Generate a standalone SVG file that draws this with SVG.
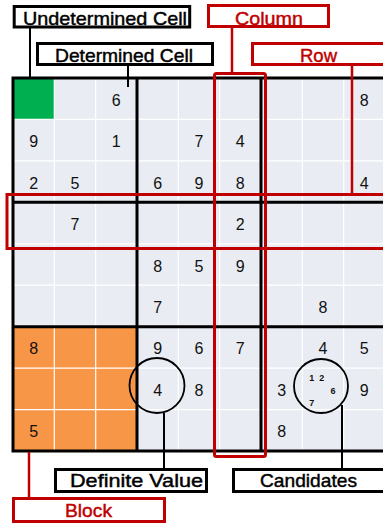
<svg xmlns="http://www.w3.org/2000/svg" width="383" height="527" viewBox="0 0 383 527">
<style>
.thin{stroke:#ffffff;stroke-width:1.2;fill:none}
.thick{stroke:#000;stroke-width:3;fill:none}
.num{font-family:"Liberation Sans",Arial,sans-serif;font-size:16px;fill:#111;text-anchor:middle}
.cand{font-family:"Liberation Sans",Arial,sans-serif;font-size:9px;font-weight:bold;fill:#111;text-anchor:middle}
.box{fill:#fff;stroke:#000;stroke-width:3}
.rbox{fill:#fff;stroke:#C00000;stroke-width:3}
.lbl{font-family:"Liberation Sans",Arial,sans-serif;font-size:19px;fill:#000;stroke:#000;stroke-width:0.45;text-anchor:middle}
.rlbl{font-family:"Liberation Sans",Arial,sans-serif;font-size:19px;fill:#C00000;stroke:#C00000;stroke-width:0.45;text-anchor:middle}
.bl{stroke:#000;stroke-width:2;fill:none}
.rl{stroke:#C00000;stroke-width:2.5;fill:none}
</style>
<rect width="383" height="527" fill="#fff"/>
<g id="grid">
<rect x="13" y="78" width="372" height="373" fill="#E9ECF3"/>
<rect x="13" y="78" width="41.3" height="41.4" fill="#00B050"/>
<rect x="13" y="326.7" width="124" height="124.3" fill="#F79646"/>
<path class="thin" d="M54.3 78V451M95.7 78V451M178.3 78V451M219.7 78V451M302.3 78V451M343.7 78V451M13 119.4H385M13 160.9H385M13 243.8H385M13 285.2H385M13 368.1H385M13 409.6H385"/>
<path class="thick" d="M13 78V451M137 78V451M261 78V451M11.5 78H385M13 202.3H385M13 326.7H385M11.5 451H385"/>
</g>
<g id="numbers">
<text class="num" x="116.3" y="105.7">6</text>
<text class="num" x="364.3" y="105.7">8</text>
<text class="num" x="33.7" y="147.2">9</text>
<text class="num" x="116.3" y="147.2">1</text>
<text class="num" x="199" y="147.2">7</text>
<text class="num" x="240.3" y="147.2">4</text>
<text class="num" x="33.7" y="188.6">2</text>
<text class="num" x="75" y="188.6">5</text>
<text class="num" x="157.7" y="188.6">6</text>
<text class="num" x="199" y="188.6">9</text>
<text class="num" x="240.3" y="188.6">8</text>
<text class="num" x="364.3" y="188.6">4</text>
<text class="num" x="75" y="230">7</text>
<text class="num" x="240.3" y="230">2</text>
<text class="num" x="157.7" y="271.5">8</text>
<text class="num" x="199" y="271.5">5</text>
<text class="num" x="240.3" y="271.5">9</text>
<text class="num" x="157.7" y="312.9">7</text>
<text class="num" x="323" y="312.9">8</text>
<text class="num" x="33.7" y="354.4">8</text>
<text class="num" x="157.7" y="354.4">9</text>
<text class="num" x="199" y="354.4">6</text>
<text class="num" x="240.3" y="354.4">7</text>
<text class="num" x="323" y="354.4">4</text>
<text class="num" x="364.3" y="354.4">5</text>
<text class="num" x="157.7" y="395.8">4</text>
<text class="num" x="199" y="395.8">8</text>
<text class="num" x="281.7" y="395.8">3</text>
<text class="num" x="364.3" y="395.8">9</text>
<text class="num" x="33.7" y="437.2">5</text>
<text class="num" x="281.7" y="437.2">8</text>
<text class="cand" x="311.7" y="381">1</text>
<text class="cand" x="321.7" y="381">2</text>
<text class="cand" x="333" y="393.5">6</text>
<text class="cand" x="311.7" y="406">7</text>
</g>
<g id="circles">
<circle cx="157" cy="385.5" r="27.5" fill="none" stroke="#000" stroke-width="1.8"/>
<circle cx="321" cy="386" r="27" fill="none" stroke="#000" stroke-width="1.8"/>
</g>
<g id="highlights">
<rect x="7" y="194.5" width="390" height="54" fill="none" stroke="#C00000" stroke-width="3"/>
<rect x="214.5" y="73.5" width="51" height="383" rx="2" fill="none" stroke="#C00000" stroke-width="3"/>
</g>
<g id="connectors">
<path class="bl" d="M30 28V78"/>
<path class="bl" d="M128 66V87"/>
<path class="rl" d="M232 28V72"/>
<path class="rl" d="M352 66V193" stroke-width="2"/>
<path class="bl" d="M164 413V468"/>
<path class="bl" d="M342 405V468"/>
<path class="rl" d="M29 452V497"/>
</g>
<g id="undetermined-cell">
<rect class="box" x="14.2" y="6.5" width="175.5" height="20.5"/>
<text class="lbl" x="105" y="24.5" textLength="164" lengthAdjust="spacingAndGlyphs">Undetermined Cell</text>
</g>
<g id="determined-cell">
<rect class="box" x="37.5" y="43.5" width="175" height="21"/>
<text class="lbl" x="124" y="61.5" textLength="138" lengthAdjust="spacingAndGlyphs">Determined Cell</text>
</g>
<g id="column">
<rect class="rbox" x="208.5" y="5.5" width="120" height="21"/>
<text class="rlbl" x="269" y="24.5" textLength="68" lengthAdjust="spacingAndGlyphs">Column</text>
</g>
<g id="row">
<rect class="rbox" x="252.5" y="43.5" width="150" height="21"/>
<text class="rlbl" x="318.5" y="61.5" textLength="37" lengthAdjust="spacingAndGlyphs">Row</text>
</g>
<g id="definite-value">
<rect class="box" x="55.5" y="469.5" width="151" height="22"/>
<text class="lbl" x="136.5" y="487" textLength="133" lengthAdjust="spacingAndGlyphs">Definite Value</text>
</g>
<g id="candidates">
<rect class="box" x="233.5" y="469.5" width="160" height="22"/>
<text class="lbl" x="308.5" y="487" textLength="97" lengthAdjust="spacingAndGlyphs">Candidates</text>
</g>
<g id="block">
<rect class="rbox" x="13.5" y="498.5" width="151" height="23"/>
<text class="rlbl" x="88.5" y="517" textLength="47" lengthAdjust="spacingAndGlyphs">Block</text>
</g>
</svg>
